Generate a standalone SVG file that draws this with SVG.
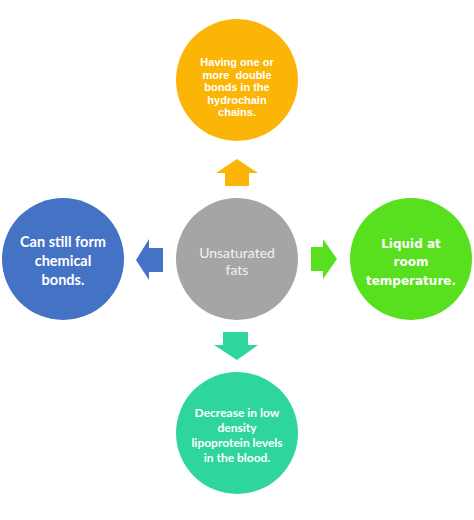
<svg xmlns="http://www.w3.org/2000/svg" width="474" height="520" viewBox="0 0 474 520">
<style>
.t{fill:#fff;text-anchor:middle;font-weight:bold}
.a{font-family:"Liberation Sans",Arial,sans-serif;font-size:11px}
.c{font-family:Lato,"Open Sans",sans-serif;font-size:14.5px}
.v{font-family:"DejaVu Sans",Verdana,sans-serif;font-size:12px}
.g{font-family:Lato,sans-serif;font-size:14px;font-weight:normal;fill:#f2f2f2;text-anchor:middle}
.b{font-family:Lato,sans-serif;font-size:12px}
</style>
<rect width="474" height="520" fill="#fff"/>
<g id="connectors">
<polygon points="237,159 258,173 249,173 249,186 225,186 225,173 216,173" fill="#FBB507"/>
<polygon points="136,260 149,239 149,248 163,248 163,272 149,272 149,280" fill="#4472C4"/>
<polygon points="337,259 323,239 323,247 311,247 311,271 323,271 323,279" fill="#58E01E"/>
<polygon points="237,360 258,345 248,345 248,332 223,332 223,345 214,345" fill="#2ED69E"/>
</g>
<g id="top">
<circle cx="237" cy="80" r="61" fill="#FBB507"/>
<text class="t a" x="237" y="66">Having one or</text>
<text class="t a" x="237" y="78.5">more&#160; double</text>
<text class="t a" x="237" y="91">bonds in the</text>
<text class="t a" x="237" y="103.5">hydrochain</text>
<text class="t a" x="237" y="116">chains.</text>
</g>
<g id="left">
<circle cx="63" cy="259" r="61" fill="#4472C4"/>
<text class="t c" x="63" y="247">Can still form</text>
<text class="t c" x="63" y="266">chemical</text>
<text class="t c" x="63" y="285">bonds.</text>
</g>
<g id="center">
<circle cx="237" cy="259" r="61" fill="#A5A5A5"/>
<text class="g" x="237" y="258">Unsaturated</text>
<text class="g" x="237" y="275">fats</text>
</g>
<g id="right">
<circle cx="411" cy="259" r="61" fill="#58E01E"/>
<text class="t v" x="411" y="247.5">Liquid at</text>
<text class="t v" x="411" y="266">room</text>
<text class="t v" x="411" y="284.5">temperature.</text>
</g>
<g id="bottom">
<circle cx="237" cy="433" r="61" fill="#2ED69E"/>
<text class="t b" x="237" y="417">Decrease in low</text>
<text class="t b" x="237" y="432">density</text>
<text class="t b" x="237" y="447">lipoprotein levels</text>
<text class="t b" x="237" y="461.5">in the blood.</text>
</g>
</svg>
